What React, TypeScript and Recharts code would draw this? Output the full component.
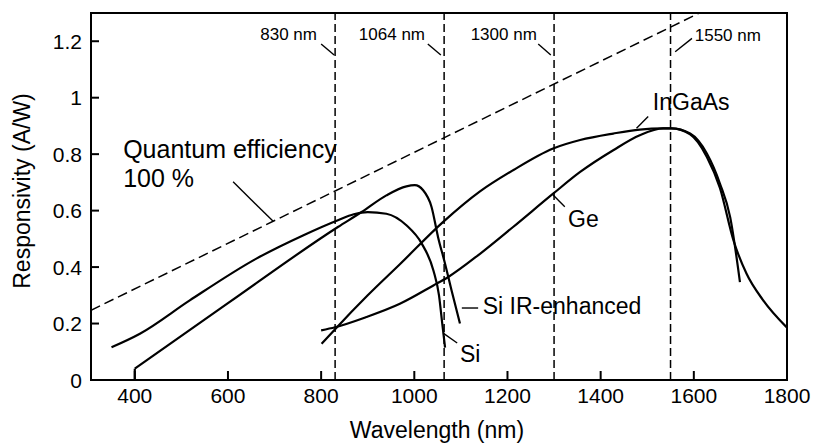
import React from 'react';
import {
  LineChart,
  Line,
  XAxis,
  YAxis,
  ReferenceLine,
  ReferenceArea,
  ReferenceDot,
} from 'recharts';

const FONT = '"Liberation Sans", Arial, Helvetica, sans-serif';

// Axis ticks
const xTicks = [400, 600, 800, 1000, 1200, 1400, 1600, 1800];
const yTicks = [0, 0.2, 0.4, 0.6, 0.8, 1, 1.2];

// Common laser wavelengths (nm)
const laserLines = [830, 1064, 1300, 1550];

// Ideal detector, 100 % quantum efficiency
const quantumLimit = [
  { nm: 306, r: 0.247 },
  { nm: 1612, r: 1.3 },
];

// Silicon
const siData = [
  { nm: 350, r: 0.116 },
  { nm: 411, r: 0.164 },
  { nm: 518, r: 0.282 },
  { nm: 661, r: 0.43 },
  { nm: 761, r: 0.512 },
  { nm: 836, r: 0.566 },
  { nm: 870, r: 0.587 },
  { nm: 900, r: 0.595 },
  { nm: 940, r: 0.589 },
  { nm: 983, r: 0.548 },
  { nm: 1016, r: 0.483 },
  { nm: 1041, r: 0.388 },
  { nm: 1053, r: 0.3 },
  { nm: 1060, r: 0.2 },
  { nm: 1066, r: 0.115 },
];

// Silicon, IR-enhanced: short vertical onset at 400 nm, then the main curve
const siIrOnset = [
  { nm: 400, r: 0 },
  { nm: 400, r: 0.04 },
];
const siIrData = [
  { nm: 400, r: 0.04 },
  { nm: 600, r: 0.272 },
  { nm: 836, r: 0.542 },
  { nm: 887, r: 0.595 },
  { nm: 940, r: 0.654 },
  { nm: 983, r: 0.686 },
  { nm: 1001, r: 0.69 },
  { nm: 1019, r: 0.672 },
  { nm: 1037, r: 0.613 },
  { nm: 1051, r: 0.506 },
  { nm: 1066, r: 0.412 },
  { nm: 1080, r: 0.317 },
  { nm: 1098, r: 0.2 },
];

// Germanium
const geData = [
  { nm: 800, r: 0.176 },
  { nm: 830, r: 0.187 },
  { nm: 897, r: 0.223 },
  { nm: 969, r: 0.27 },
  { nm: 1041, r: 0.335 },
  { nm: 1073, r: 0.365 },
  { nm: 1141, r: 0.447 },
  { nm: 1212, r: 0.542 },
  { nm: 1298, r: 0.66 },
  { nm: 1356, r: 0.737 },
  { nm: 1427, r: 0.814 },
  { nm: 1484, r: 0.867 },
  { nm: 1534, r: 0.891 },
  { nm: 1552, r: 0.891 },
  { nm: 1592, r: 0.87 },
  { nm: 1628, r: 0.79 },
  { nm: 1656, r: 0.68 },
  { nm: 1685, r: 0.495 },
  { nm: 1713, r: 0.377 },
  { nm: 1749, r: 0.282 },
  { nm: 1799, r: 0.187 },
];

// Indium gallium arsenide
const ingaasData = [
  { nm: 801, r: 0.128 },
  { nm: 830, r: 0.18 },
  { nm: 900, r: 0.3 },
  { nm: 969, r: 0.41 },
  { nm: 1062, r: 0.56 },
  { nm: 1141, r: 0.668 },
  { nm: 1212, r: 0.743 },
  { nm: 1298, r: 0.82 },
  { nm: 1356, r: 0.85 },
  { nm: 1427, r: 0.873 },
  { nm: 1484, r: 0.887 },
  { nm: 1534, r: 0.891 },
  { nm: 1552, r: 0.891 },
  { nm: 1592, r: 0.873 },
  { nm: 1628, r: 0.802 },
  { nm: 1656, r: 0.696 },
  { nm: 1678, r: 0.577 },
  { nm: 1699, r: 0.347 },
];

// Callout texts and their leader lines, in data units
const wavelengthTags = [
  { text: '830 nm', x: 791, y: 1.204, anchor: 'end', lead: [[800, 1.19], [828, 1.151]] },
  { text: '1064 nm', x: 1023, y: 1.204, anchor: 'end', lead: [[1029, 1.19], [1057, 1.151]] },
  { text: '1300 nm', x: 1263, y: 1.204, anchor: 'end', lead: [[1266, 1.19], [1293, 1.151]] },
  { text: '1550 nm', x: 1602, y: 1.202, anchor: 'start', lead: [[1560, 1.163], [1596, 1.21]] },
];

const curveTags = [
  { text: 'InGaAs', x: 1512, y: 0.956, lead: [[1502, 0.933], [1477, 0.892]] },
  { text: 'Ge', x: 1330, y: 0.543, lead: [[1298, 0.655], [1323, 0.614]] },
  { text: 'Si IR-enhanced', x: 1147, y: 0.234, lead: [[1102, 0.255], [1137, 0.255]] },
  { text: 'Si', x: 1098, y: 0.065, lead: [[1062, 0.166], [1092, 0.131]] },
];

const YTick = (props: any) => {
  const { x, y, payload } = props;
  return (
    <g>
      <line x1={x} x2={x + 8} y1={y} y2={y} stroke="#000" strokeWidth={2} />
      <text x={x - 9} y={y} dy="0.36em" textAnchor="end" fontSize={21} fontFamily={FONT} fill="#000">
        {String(payload.value)}
      </text>
    </g>
  );
};

const XTick = (props: any) => {
  const { x, y, payload } = props;
  return (
    <g>
      <line x1={x} x2={x} y1={y} y2={y - 9} stroke="#000" strokeWidth={2} />
      <text x={x} y={y + 23} textAnchor="middle" fontSize={21} fontFamily={FONT} fill="#000">
        {String(payload.value)}
      </text>
    </g>
  );
};

const textShape = (text: string, size: number, anchor: string) => (p: any) => (
  <text x={p.cx} y={p.cy} textAnchor={anchor} fontSize={size} fontFamily={FONT} fill="#000">
    {text}
  </text>
);

const qeShape = (p: any) => (
  <text x={p.cx} y={p.cy} fontSize={25} fontFamily={FONT} fill="#000">
    <tspan x={p.cx}>Quantum efficiency</tspan>
    <tspan x={p.cx} dy={29}>100 %</tspan>
  </text>
);

const curveStyle = { stroke: '#000', strokeWidth: 2.2, fill: 'none' };

export default function App() {
  return (
    <div style={{ position: 'absolute', left: 0, top: 0, background: '#fff' }}>
      <LineChart width={814} height={446} margin={{ top: 13, right: 27, bottom: 0, left: 0 }}>
        <XAxis
          dataKey="nm"
          type="number"
          domain={[306, 1800]}
          ticks={xTicks}
          allowDataOverflow
          height={66}
          tickSize={0}
          tickMargin={0}
          tickLine={false}
          tick={XTick}
          axisLine={{ stroke: '#000', strokeWidth: 2 }}
        />
        <YAxis
          type="number"
          domain={[0, 1.3]}
          ticks={yTicks}
          allowDataOverflow
          width={91}
          tickSize={0}
          tickMargin={0}
          tickLine={false}
          tick={YTick}
          axisLine={{ stroke: '#000', strokeWidth: 2 }}
        />
        <ReferenceArea x1={306} x2={1800} y1={0} y2={1.3} fill="none" stroke="#000" strokeWidth={2} ifOverflow="visible" />
        {laserLines.map((w) => (
          <ReferenceLine key={w} x={w} stroke="#000" strokeWidth={1.5} strokeDasharray="8 4" />
        ))}
        <Line data={quantumLimit} dataKey="r" type="linear" dot={false} isAnimationActive={false} stroke="#000" strokeWidth={1.5} strokeDasharray="10 5" />
        <Line data={siData} dataKey="r" type="monotone" dot={false} isAnimationActive={false} {...curveStyle} />
        <Line data={siIrOnset} dataKey="r" type="linear" dot={false} isAnimationActive={false} {...curveStyle} />
        <Line data={siIrData} dataKey="r" type="monotone" dot={false} isAnimationActive={false} {...curveStyle} />
        <Line data={geData} dataKey="r" type="monotone" dot={false} isAnimationActive={false} {...curveStyle} />
        <Line data={ingaasData} dataKey="r" type="monotone" dot={false} isAnimationActive={false} {...curveStyle} />

        {wavelengthTags.map((t) => (
          <ReferenceLine
            key={'l' + t.text}
            segment={[{ x: t.lead[0][0], y: t.lead[0][1] }, { x: t.lead[1][0], y: t.lead[1][1] }]}
            stroke="#000"
            strokeWidth={1.4}
            ifOverflow="visible"
          />
        ))}
        {wavelengthTags.map((t) => (
          <ReferenceDot key={'t' + t.text} x={t.x} y={t.y} r={0} ifOverflow="visible" shape={textShape(t.text, 17, t.anchor)} />
        ))}
        {curveTags.map((t) => (
          <ReferenceLine
            key={'l' + t.text}
            segment={[{ x: t.lead[0][0], y: t.lead[0][1] }, { x: t.lead[1][0], y: t.lead[1][1] }]}
            stroke="#000"
            strokeWidth={1.4}
            ifOverflow="visible"
          />
        ))}
        {curveTags.map((t) => (
          <ReferenceDot key={'t' + t.text} x={t.x} y={t.y} r={0} ifOverflow="visible" shape={textShape(t.text, 23, 'start')} />
        ))}
        <ReferenceLine segment={[{ x: 611, y: 0.702 }, { x: 697, y: 0.562 }]} stroke="#000" strokeWidth={1.4} ifOverflow="visible" />
        <ReferenceDot x={375} y={0.786} r={0} ifOverflow="visible" shape={qeShape} />

        <text x={437} y={438} textAnchor="middle" fontSize={23} fontFamily={FONT} fill="#000">
          Wavelength (nm)
        </text>
        <text transform="translate(30,191) rotate(-90)" textAnchor="middle" fontSize={23} fontFamily={FONT} fill="#000">
          Responsivity (A/W)
        </text>
      </LineChart>
    </div>
  );
}
